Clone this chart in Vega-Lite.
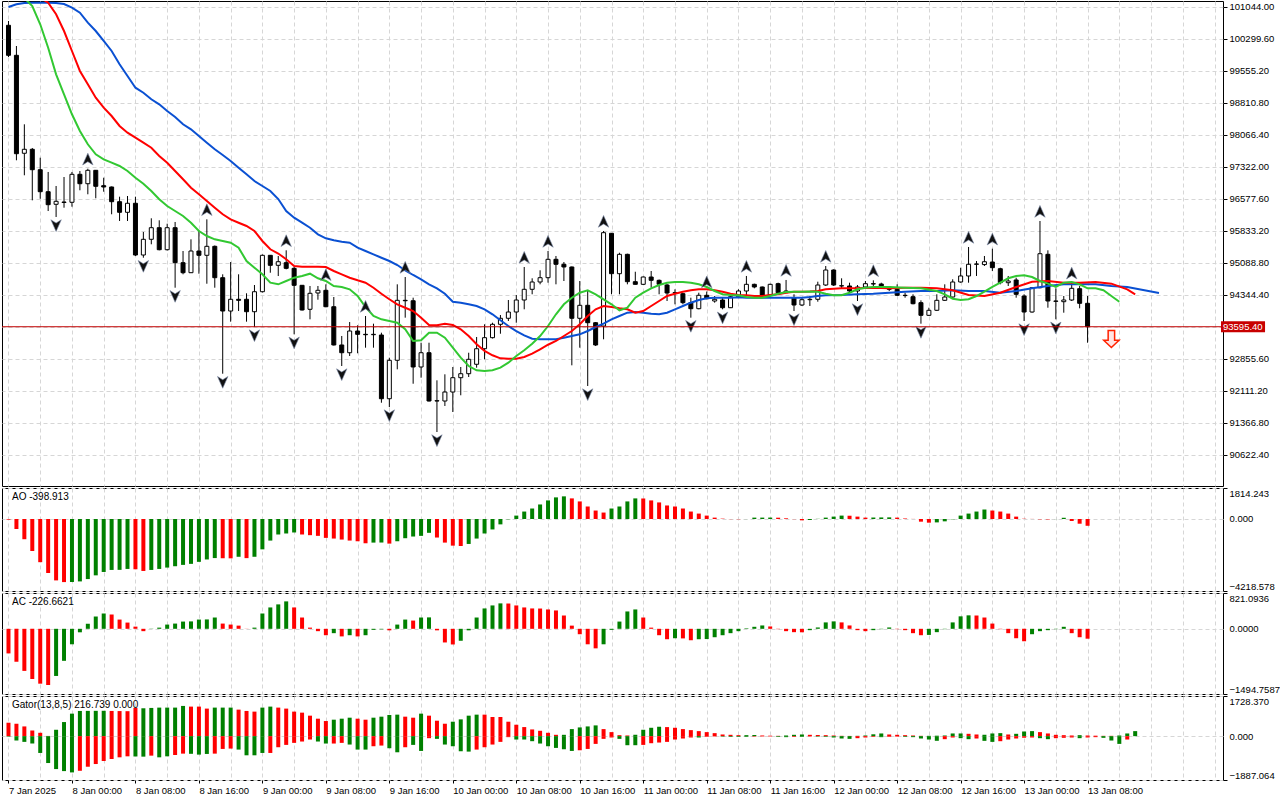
{
  "$schema": "https://vega.github.io/schema/vega-lite/v6.json",
  "background": "white",
  "padding": {"left": 1, "top": 0, "right": 0, "bottom": 0},
  "spacing": 2,
  "bounds": "flush",
  "config": {
    "view": {"stroke": "black", "strokeWidth": 1},
    "font": "Liberation Sans",
    "axis": {"labelFont": "Liberation Sans", "labelFontSize": 9.5, "labelColor": "#000000", "gridColor": "#d6d6d6", "gridDash": [4, 3], "gridWidth": 1, "tickColor": "#000000", "domainColor": "#000000", "tickCount": 200},
    "text": {"font": "Liberation Sans"}
  },
  "datasets": {
    "bars": [
      {"k":0,"o":100607,"h":100707,"l":99869,"c":99909},
      {"k":1,"o":99909,"h":100125,"l":97467,"c":97620},
      {"k":2,"o":97630,"h":98304,"l":97118,"c":97723},
      {"k":3,"o":97723,"h":97753,"l":96536,"c":97248},
      {"k":4,"o":97248,"h":97527,"l":96573,"c":96736},
      {"k":5,"o":96736,"h":97195,"l":96287,"c":96434},
      {"k":6,"o":96443,"h":96869,"l":96148,"c":96513,"f":"d"},
      {"k":7,"o":96497,"h":97078,"l":96364,"c":96485},
      {"k":8,"o":96490,"h":97195,"l":96387,"c":97141},
      {"k":9,"o":97141,"h":97218,"l":96769,"c":96922},
      {"k":10,"o":96922,"h":97271,"l":96676,"c":97234,"f":"u"},
      {"k":11,"o":97234,"h":97241,"l":96583,"c":96862},
      {"k":12,"o":96876,"h":97062,"l":96736,"c":96846},
      {"k":13,"o":96846,"h":96857,"l":96211,"c":96504},
      {"k":14,"o":96504,"h":96620,"l":96055,"c":96257},
      {"k":15,"o":96257,"h":96636,"l":96055,"c":96467},
      {"k":16,"o":96467,"h":96620,"l":95241,"c":95264},
      {"k":17,"o":95264,"h":95799,"l":95201,"c":95629,"f":"d"},
      {"k":18,"o":95629,"h":96118,"l":95513,"c":95899},
      {"k":19,"o":95899,"h":96071,"l":95373,"c":95387},
      {"k":20,"o":95387,"h":95992,"l":95369,"c":95899},
      {"k":21,"o":95899,"h":96032,"l":94503,"c":95085,"f":"d"},
      {"k":22,"o":95085,"h":95357,"l":94815,"c":94852},
      {"k":23,"o":94852,"h":95629,"l":94845,"c":95357},
      {"k":24,"o":95357,"h":95838,"l":94829,"c":95257},
      {"k":25,"o":95257,"h":96094,"l":94596,"c":95466,"f":"u"},
      {"k":26,"o":95466,"h":95485,"l":94503,"c":94736},
      {"k":27,"o":94736,"h":94815,"l":92503,"c":93961,"f":"d"},
      {"k":28,"o":93961,"h":95101,"l":93713,"c":94234},
      {"k":29,"o":94234,"h":94815,"l":93961,"c":94210},
      {"k":30,"o":94234,"h":94373,"l":93713,"c":93945},
      {"k":31,"o":93945,"h":94566,"l":93589,"c":94410,"f":"d"},
      {"k":32,"o":94410,"h":95276,"l":94392,"c":95257},
      {"k":33,"o":95257,"h":95264,"l":94852,"c":95024},
      {"k":34,"o":95024,"h":95241,"l":94775,"c":95108},
      {"k":35,"o":95085,"h":95373,"l":94931,"c":94954,"f":"u"},
      {"k":36,"o":94954,"h":94985,"l":93419,"c":94559,"f":"d"},
      {"k":37,"o":94559,"h":94566,"l":93973,"c":93985},
      {"k":38,"o":94001,"h":94543,"l":93768,"c":94373},
      {"k":39,"o":94380,"h":94543,"l":94224,"c":94443},
      {"k":40,"o":94443,"h":94582,"l":94050,"c":94061,"f":"u"},
      {"k":41,"o":94061,"h":94287,"l":93159,"c":93171},
      {"k":42,"o":93171,"h":93380,"l":92682,"c":92991,"f":"d"},
      {"k":43,"o":92991,"h":93705,"l":92915,"c":93496},
      {"k":44,"o":93496,"h":93629,"l":92978,"c":93419},
      {"k":45,"o":93419,"h":93845,"l":93108,"c":93410,"f":"u"},
      {"k":46,"o":93410,"h":93666,"l":93108,"c":93419},
      {"k":47,"o":93403,"h":93457,"l":91828,"c":91921},
      {"k":48,"o":91921,"h":92875,"l":91728,"c":92815,"f":"d"},
      {"k":49,"o":92815,"h":94582,"l":92605,"c":94210},
      {"k":50,"o":94210,"h":94752,"l":93806,"c":94200,"f":"u"},
      {"k":51,"o":94200,"h":94271,"l":92270,"c":92659},
      {"k":52,"o":92659,"h":93224,"l":92410,"c":92991},
      {"k":53,"o":92991,"h":93224,"l":91856,"c":91868},
      {"k":54,"o":91868,"h":92349,"l":91147,"c":91875,"f":"d"},
      {"k":55,"o":91868,"h":92489,"l":91752,"c":92077},
      {"k":56,"o":92077,"h":92659,"l":91612,"c":92410},
      {"k":57,"o":92410,"h":92659,"l":92001,"c":92503},
      {"k":58,"o":92503,"h":92991,"l":92426,"c":92838},
      {"k":59,"o":92722,"h":93357,"l":92643,"c":93084},
      {"k":60,"o":93084,"h":93652,"l":92838,"c":93341},
      {"k":61,"o":93341,"h":93689,"l":93322,"c":93652},
      {"k":62,"o":93652,"h":93868,"l":93433,"c":93792},
      {"k":63,"o":93792,"h":94217,"l":93729,"c":93938},
      {"k":64,"o":93938,"h":94334,"l":93689,"c":94217},
      {"k":65,"o":94217,"h":94985,"l":94001,"c":94466,"f":"u"},
      {"k":66,"o":94466,"h":94722,"l":94350,"c":94636},
      {"k":67,"o":94636,"h":94908,"l":94582,"c":94736},
      {"k":68,"o":94736,"h":95357,"l":94620,"c":95164,"f":"u"},
      {"k":69,"o":95164,"h":95241,"l":94582,"c":95048},
      {"k":70,"o":95048,"h":95101,"l":94659,"c":94985},
      {"k":71,"o":94985,"h":94996,"l":92698,"c":93792},
      {"k":72,"o":93792,"h":94659,"l":93108,"c":94094},
      {"k":73,"o":94094,"h":94443,"l":92217,"c":93689,"f":"d"},
      {"k":74,"o":93689,"h":93705,"l":93147,"c":93171},
      {"k":75,"o":93612,"h":95822,"l":93303,"c":95783,"f":"u"},
      {"k":76,"o":95769,"h":95776,"l":94350,"c":94829},
      {"k":77,"o":94829,"h":95317,"l":94350,"c":95280},
      {"k":78,"o":95280,"h":95294,"l":94582,"c":94643},
      {"k":79,"o":94643,"h":94875,"l":94578,"c":94582},
      {"k":80,"o":94582,"h":94764,"l":94566,"c":94752},
      {"k":81,"o":94752,"h":94892,"l":94503,"c":94675},
      {"k":82,"o":94675,"h":94694,"l":94350,"c":94582},
      {"k":83,"o":94566,"h":94589,"l":94194,"c":94380},
      {"k":84,"o":94387,"h":94466,"l":94117,"c":94380},
      {"k":85,"o":94364,"h":94380,"l":94117,"c":94155},
      {"k":86,"o":94155,"h":94271,"l":93806,"c":94015,"f":"d"},
      {"k":87,"o":94015,"h":94387,"l":94001,"c":94327},
      {"k":88,"o":94327,"h":94415,"l":94234,"c":94248,"f":"u"},
      {"k":89,"o":94194,"h":94310,"l":94155,"c":94234},
      {"k":90,"o":94217,"h":94271,"l":94001,"c":94038,"f":"d"},
      {"k":91,"o":94038,"h":94327,"l":94030,"c":94294},
      {"k":92,"o":94294,"h":94466,"l":94280,"c":94427},
      {"k":93,"o":94427,"h":94776,"l":94310,"c":94582,"f":"u"},
      {"k":94,"o":94582,"h":94597,"l":94489,"c":94520},
      {"k":95,"o":94520,"h":94530,"l":94310,"c":94334},
      {"k":96,"o":94334,"h":94597,"l":94310,"c":94582},
      {"k":97,"o":94597,"h":94620,"l":94350,"c":94387},
      {"k":98,"o":94387,"h":94683,"l":94380,"c":94427,"f":"u"},
      {"k":99,"o":94271,"h":94350,"l":93961,"c":94101,"f":"d"},
      {"k":100,"o":94101,"h":94271,"l":94078,"c":94224},
      {"k":101,"o":94224,"h":94310,"l":94078,"c":94234},
      {"k":102,"o":94234,"h":94643,"l":94178,"c":94566},
      {"k":103,"o":94566,"h":95008,"l":94543,"c":94915,"f":"u"},
      {"k":104,"o":94915,"h":94931,"l":94543,"c":94566},
      {"k":105,"o":94543,"h":94722,"l":94489,"c":94550},
      {"k":106,"o":94543,"h":94620,"l":94387,"c":94427},
      {"k":107,"o":94427,"h":94566,"l":94194,"c":94520,"f":"d"},
      {"k":108,"o":94520,"h":94659,"l":94489,"c":94597},
      {"k":109,"o":94597,"h":94675,"l":94543,"c":94590,"f":"u"},
      {"k":110,"o":94590,"h":94620,"l":94489,"c":94520},
      {"k":111,"o":94520,"h":94543,"l":94427,"c":94466},
      {"k":112,"o":94466,"h":94582,"l":94310,"c":94327},
      {"k":113,"o":94327,"h":94387,"l":94271,"c":94320},
      {"k":114,"o":94294,"h":94350,"l":94117,"c":94131},
      {"k":115,"o":94155,"h":94210,"l":93666,"c":93861,"f":"d"},
      {"k":116,"o":93861,"h":94038,"l":93845,"c":93978},
      {"k":117,"o":93978,"h":94350,"l":93961,"c":94210},
      {"k":118,"o":94210,"h":94582,"l":94194,"c":94287},
      {"k":119,"o":94287,"h":94699,"l":94271,"c":94636},
      {"k":120,"o":94636,"h":94968,"l":94620,"c":94776},
      {"k":121,"o":94776,"h":95450,"l":94620,"c":95048,"f":"u"},
      {"k":122,"o":95048,"h":95124,"l":94776,"c":95055},
      {"k":123,"o":95041,"h":95241,"l":95008,"c":95108},
      {"k":124,"o":95101,"h":95411,"l":94892,"c":94969,"f":"u"},
      {"k":125,"o":94945,"h":94968,"l":94582,"c":94620},
      {"k":126,"o":94620,"h":94776,"l":94543,"c":94659},
      {"k":127,"o":94683,"h":94736,"l":94271,"c":94350},
      {"k":128,"o":94310,"h":94350,"l":93729,"c":93938,"f":"d"},
      {"k":129,"o":93938,"h":94520,"l":93922,"c":94503},
      {"k":130,"o":94503,"h":96055,"l":94489,"c":95294,"f":"u"},
      {"k":131,"o":95280,"h":95373,"l":94038,"c":94194},
      {"k":132,"o":94194,"h":94489,"l":93768,"c":94187,"f":"d"},
      {"k":133,"o":94178,"h":94310,"l":93922,"c":94217},
      {"k":134,"o":94217,"h":94620,"l":94194,"c":94489,"f":"u"},
      {"k":135,"o":94480,"h":94543,"l":94024,"c":94140},
      {"k":136,"o":94140,"h":94310,"l":93224,"c":93595.4}
    ],
    "lines": [
      {"k":0,"jaw":101032},
      {"k":1,"jaw":101095},
      {"k":2,"jaw":101125,"lips":101242},
      {"k":3,"jaw":101132,"lips":101056},
      {"k":4,"jaw":101132,"teeth":101250,"lips":100630},
      {"k":5,"jaw":101132,"teeth":101132,"lips":100086},
      {"k":6,"jaw":101125,"teeth":100863,"lips":99467},
      {"k":7,"jaw":101102,"teeth":100474,"lips":99002},
      {"k":8,"jaw":101016,"teeth":100009,"lips":98537},
      {"k":9,"jaw":100900,"teeth":99544,"lips":98148},
      {"k":10,"jaw":100667,"teeth":99234,"lips":97839},
      {"k":11,"jaw":100474,"teeth":98923,"lips":97606},
      {"k":12,"jaw":100242,"teeth":98690,"lips":97490},
      {"k":13,"jaw":100009,"teeth":98497,"lips":97411},
      {"k":14,"jaw":99700,"teeth":98265,"lips":97334},
      {"k":15,"jaw":99428,"teeth":98109,"lips":97218},
      {"k":16,"jaw":99155,"teeth":97992,"lips":97062},
      {"k":17,"jaw":99039,"teeth":97876,"lips":96922},
      {"k":18,"jaw":98886,"teeth":97760,"lips":96753},
      {"k":19,"jaw":98769,"teeth":97567,"lips":96560},
      {"k":20,"jaw":98613,"teeth":97411,"lips":96404},
      {"k":21,"jaw":98474,"teeth":97218,"lips":96287},
      {"k":22,"jaw":98304,"teeth":97025,"lips":96171},
      {"k":23,"jaw":98188,"teeth":96829,"lips":96015},
      {"k":24,"jaw":98032,"teeth":96676,"lips":95822},
      {"k":25,"jaw":97876,"teeth":96520,"lips":95706},
      {"k":26,"jaw":97723,"teeth":96364,"lips":95629},
      {"k":27,"jaw":97590,"teeth":96211,"lips":95590},
      {"k":28,"jaw":97450,"teeth":96094,"lips":95550},
      {"k":29,"jaw":97295,"teeth":96015,"lips":95434},
      {"k":30,"jaw":97141,"teeth":95939,"lips":95124},
      {"k":31,"jaw":96985,"teeth":95822,"lips":94969},
      {"k":32,"jaw":96869,"teeth":95590,"lips":94815},
      {"k":33,"jaw":96753,"teeth":95397,"lips":94620},
      {"k":34,"jaw":96566,"teeth":95299,"lips":94582},
      {"k":35,"jaw":96287,"teeth":95164,"lips":94659},
      {"k":36,"jaw":96132,"teeth":95008,"lips":94736},
      {"k":37,"jaw":96015,"teeth":94992,"lips":94776},
      {"k":38,"jaw":95899,"teeth":94992,"lips":94829},
      {"k":39,"jaw":95745,"teeth":94992,"lips":94722},
      {"k":40,"jaw":95652,"teeth":94985,"lips":94659},
      {"k":41,"jaw":95606,"teeth":94892,"lips":94543},
      {"k":42,"jaw":95573,"teeth":94815,"lips":94520},
      {"k":43,"jaw":95550,"teeth":94736,"lips":94466},
      {"k":44,"jaw":95434,"teeth":94675,"lips":94310},
      {"k":45,"jaw":95357,"teeth":94620,"lips":94054},
      {"k":46,"jaw":95280,"teeth":94503,"lips":93845},
      {"k":47,"jaw":95201,"teeth":94364,"lips":93768},
      {"k":48,"jaw":95124,"teeth":94234,"lips":93729},
      {"k":49,"jaw":95031,"teeth":94117,"lips":93689},
      {"k":50,"jaw":94908,"teeth":94038,"lips":93536},
      {"k":51,"jaw":94799,"teeth":93961,"lips":93264},
      {"k":52,"jaw":94699,"teeth":93806,"lips":93280},
      {"k":53,"jaw":94582,"teeth":93636,"lips":93457},
      {"k":54,"jaw":94489,"teeth":93629,"lips":93457},
      {"k":55,"jaw":94364,"teeth":93666,"lips":93340},
      {"k":56,"jaw":94178,"teeth":93636,"lips":93108},
      {"k":57,"jaw":94155,"teeth":93536,"lips":92875},
      {"k":58,"jaw":94117,"teeth":93380,"lips":92682},
      {"k":59,"jaw":94078,"teeth":93187,"lips":92582},
      {"k":60,"jaw":94001,"teeth":93031,"lips":92566},
      {"k":61,"jaw":93885,"teeth":92931,"lips":92582},
      {"k":62,"jaw":93745,"teeth":92861,"lips":92643},
      {"k":63,"jaw":93612,"teeth":92852,"lips":92759},
      {"k":64,"jaw":93496,"teeth":92852,"lips":92915},
      {"k":65,"jaw":93396,"teeth":92891,"lips":93047},
      {"k":66,"jaw":93317,"teeth":92968,"lips":93201},
      {"k":67,"jaw":93303,"teeth":93071,"lips":93380},
      {"k":68,"jaw":93303,"teeth":93177,"lips":93612},
      {"k":69,"jaw":93303,"teeth":93264,"lips":93885},
      {"k":70,"jaw":93340,"teeth":93380,"lips":94117},
      {"k":71,"jaw":93380,"teeth":93496,"lips":94271},
      {"k":72,"jaw":93419,"teeth":93652,"lips":94387},
      {"k":73,"jaw":93496,"teeth":93845,"lips":94443},
      {"k":74,"jaw":93589,"teeth":94001,"lips":94350},
      {"k":75,"jaw":93666,"teeth":94078,"lips":94234},
      {"k":76,"jaw":93768,"teeth":94054,"lips":94117},
      {"k":77,"jaw":93845,"teeth":94024,"lips":93978},
      {"k":78,"jaw":93922,"teeth":94001,"lips":94038},
      {"k":79,"jaw":93938,"teeth":93922,"lips":94271},
      {"k":80,"jaw":93922,"teeth":93961,"lips":94387},
      {"k":81,"jaw":93899,"teeth":94078,"lips":94489},
      {"k":82,"jaw":93885,"teeth":94194,"lips":94566},
      {"k":83,"jaw":93922,"teeth":94310,"lips":94620},
      {"k":84,"jaw":94001,"teeth":94364,"lips":94636},
      {"k":85,"jaw":94078,"teeth":94410,"lips":94636},
      {"k":86,"jaw":94155,"teeth":94443,"lips":94620},
      {"k":87,"jaw":94217,"teeth":94466,"lips":94582},
      {"k":88,"jaw":94257,"teeth":94466,"lips":94520},
      {"k":89,"jaw":94271,"teeth":94443,"lips":94427},
      {"k":90,"jaw":94271,"teeth":94410,"lips":94350},
      {"k":91,"jaw":94271,"teeth":94364,"lips":94334},
      {"k":92,"jaw":94280,"teeth":94334,"lips":94327},
      {"k":93,"jaw":94271,"teeth":94327,"lips":94287},
      {"k":94,"jaw":94271,"teeth":94310,"lips":94271},
      {"k":95,"jaw":94271,"teeth":94310,"lips":94271},
      {"k":96,"jaw":94271,"teeth":94334,"lips":94310},
      {"k":97,"jaw":94271,"teeth":94350,"lips":94364},
      {"k":98,"jaw":94271,"teeth":94387,"lips":94403},
      {"k":99,"jaw":94271,"teeth":94410,"lips":94410},
      {"k":100,"jaw":94271,"teeth":94410,"lips":94410},
      {"k":101,"jaw":94287,"teeth":94415,"lips":94415},
      {"k":102,"jaw":94310,"teeth":94427,"lips":94410},
      {"k":103,"jaw":94327,"teeth":94466,"lips":94364},
      {"k":104,"lips":94327},
      {"k":105,"jaw":94334,"teeth":94489,"lips":94327},
      {"k":106,"lips":94387},
      {"k":107,"jaw":94350,"teeth":94489,"lips":94466},
      {"k":108,"lips":94503},
      {"k":109,"jaw":94364,"teeth":94503,"lips":94520},
      {"k":111,"jaw":94387,"teeth":94489,"lips":94520},
      {"k":113,"jaw":94410,"teeth":94503,"lips":94503},
      {"k":115,"jaw":94427,"teeth":94503,"lips":94489},
      {"k":117,"jaw":94427,"teeth":94489,"lips":94427},
      {"k":118,"lips":94350},
      {"k":119,"jaw":94443,"teeth":94443,"lips":94248},
      {"k":120,"lips":94217},
      {"k":121,"jaw":94427,"teeth":94334,"lips":94234},
      {"k":122,"lips":94310},
      {"k":123,"jaw":94427,"teeth":94310,"lips":94410},
      {"k":124,"lips":94520},
      {"k":125,"jaw":94387,"teeth":94387,"lips":94620},
      {"k":126,"lips":94722},
      {"k":127,"jaw":94427,"teeth":94520,"lips":94776},
      {"k":128,"lips":94792},
      {"k":129,"jaw":94489,"teeth":94643,"lips":94752},
      {"k":130,"lips":94659},
      {"k":131,"jaw":94543,"teeth":94659,"lips":94597},
      {"k":132,"lips":94520},
      {"k":133,"jaw":94582,"teeth":94620,"lips":94620},
      {"k":134,"lips":94636},
      {"k":135,"jaw":94582,"teeth":94620,"lips":94582},
      {"k":136,"lips":94489},
      {"k":137,"jaw":94582,"teeth":94636,"lips":94489},
      {"k":138,"lips":94443},
      {"k":139,"jaw":94543,"teeth":94597,"lips":94310},
      {"k":140,"lips":94178},
      {"k":141,"jaw":94520,"teeth":94466},
      {"k":142,"teeth":94350},
      {"k":143,"jaw":94450},
      {"k":145,"jaw":94380}
    ],
    "ao": [
      {"k":0,"v":-40,"d":"dn"},{"k":1,"v":-593,"d":"dn"},{"k":2,"v":-1186,"d":"dn"},{"k":3,"v":-1878,"d":"dn"},
      {"k":4,"v":-2531,"d":"dn"},{"k":5,"v":-3163,"d":"dn"},{"k":6,"v":-3598,"d":"dn"},{"k":7,"v":-3697,"d":"dn"},
      {"k":8,"v":-3690,"d":"up"},{"k":9,"v":-3657,"d":"up"},{"k":10,"v":-3519,"d":"up"},{"k":11,"v":-3302,"d":"up"},
      {"k":12,"v":-3104,"d":"up"},{"k":13,"v":-2985,"d":"up"},{"k":14,"v":-2980,"d":"up"},{"k":15,"v":-2926,"d":"up"},
      {"k":16,"v":-2946,"d":"dn"},{"k":17,"v":-3045,"d":"dn"},{"k":18,"v":-2985,"d":"up"},{"k":19,"v":-2926,"d":"up"},
      {"k":20,"v":-2847,"d":"up"},{"k":21,"v":-2768,"d":"up"},{"k":22,"v":-2689,"d":"up"},{"k":23,"v":-2629,"d":"up"},
      {"k":24,"v":-2511,"d":"up"},{"k":25,"v":-2372,"d":"up"},{"k":26,"v":-2290,"d":"up"},{"k":27,"v":-2300,"d":"dn"},
      {"k":28,"v":-2305,"d":"dn"},{"k":29,"v":-2214,"d":"up"},{"k":30,"v":-2293,"d":"dn"},{"k":31,"v":-2214,"d":"up"},
      {"k":32,"v":-1779,"d":"up"},{"k":33,"v":-1265,"d":"up"},{"k":34,"v":-909,"d":"up"},{"k":35,"v":-850,"d":"up"},
      {"k":36,"v":-791,"d":"up"},{"k":37,"v":-909,"d":"dn"},{"k":38,"v":-949,"d":"dn"},{"k":39,"v":-989,"d":"dn"},
      {"k":40,"v":-1107,"d":"dn"},{"k":41,"v":-1147,"d":"dn"},{"k":42,"v":-1206,"d":"dn"},{"k":43,"v":-1265,"d":"dn"},
      {"k":44,"v":-1305,"d":"dn"},{"k":45,"v":-1423,"d":"dn"},{"k":46,"v":-1384,"d":"up"},{"k":47,"v":-1380,"d":"up"},
      {"k":48,"v":-1443,"d":"dn"},{"k":49,"v":-1305,"d":"up"},{"k":50,"v":-1127,"d":"up"},{"k":51,"v":-1028,"d":"up"},
      {"k":52,"v":-989,"d":"up"},{"k":53,"v":-811,"d":"up"},{"k":54,"v":-1087,"d":"dn"},{"k":55,"v":-1384,"d":"dn"},
      {"k":56,"v":-1562,"d":"dn"},{"k":57,"v":-1582,"d":"dn"},{"k":58,"v":-1463,"d":"up"},{"k":59,"v":-1147,"d":"up"},
      {"k":60,"v":-850,"d":"up"},{"k":61,"v":-613,"d":"up"},{"k":62,"v":-316,"d":"up"},{"k":63,"v":-20,"d":"up"},
      {"k":64,"v":198,"d":"up"},{"k":65,"v":435,"d":"up"},{"k":66,"v":613,"d":"up"},{"k":67,"v":850,"d":"up"},
      {"k":68,"v":1087,"d":"up"},{"k":69,"v":1265,"d":"up"},{"k":70,"v":1325,"d":"up"},{"k":71,"v":1206,"d":"dn"},
      {"k":72,"v":1028,"d":"dn"},{"k":73,"v":731,"d":"dn"},{"k":74,"v":494,"d":"dn"},{"k":75,"v":376,"d":"dn"},
      {"k":76,"v":613,"d":"up"},{"k":77,"v":731,"d":"up"},{"k":78,"v":1028,"d":"up"},{"k":79,"v":1206,"d":"up"},
      {"k":80,"v":1200,"d":"dn"},{"k":81,"v":1087,"d":"dn"},{"k":82,"v":969,"d":"dn"},{"k":83,"v":791,"d":"dn"},
      {"k":84,"v":731,"d":"dn"},{"k":85,"v":613,"d":"dn"},{"k":86,"v":435,"d":"dn"},{"k":87,"v":316,"d":"dn"},
      {"k":88,"v":198,"d":"dn"},{"k":89,"v":79,"d":"dn"},{"k":90,"v":20,"d":"dn"},{"k":91,"v":-10,"d":"dn"},
      {"k":92,"v":-15,"d":"dn"},{"k":93,"v":-5,"d":"up"},{"k":94,"v":79,"d":"up"},{"k":95,"v":80,"d":"up"},
      {"k":96,"v":82,"d":"up"},{"k":97,"v":75,"d":"dn"},{"k":98,"v":40,"d":"dn"},{"k":99,"v":-10,"d":"dn"},
      {"k":100,"v":-79,"d":"dn"},{"k":101,"v":-59,"d":"up"},{"k":102,"v":10,"d":"up"},{"k":103,"v":79,"d":"up"},
      {"k":104,"v":138,"d":"up"},{"k":105,"v":198,"d":"up"},{"k":106,"v":190,"d":"dn"},{"k":107,"v":138,"d":"dn"},
      {"k":108,"v":79,"d":"dn"},{"k":109,"v":85,"d":"up"},{"k":110,"v":90,"d":"up"},{"k":111,"v":95,"d":"up"},
      {"k":112,"v":80,"d":"dn"},{"k":113,"v":30,"d":"dn"},{"k":114,"v":5,"d":"dn"},{"k":115,"v":-158,"d":"dn"},
      {"k":116,"v":-217,"d":"dn"},{"k":117,"v":-200,"d":"up"},{"k":118,"v":-138,"d":"up"},{"k":119,"v":-20,"d":"up"},
      {"k":120,"v":198,"d":"up"},{"k":121,"v":316,"d":"up"},{"k":122,"v":435,"d":"up"},{"k":123,"v":554,"d":"up"},
      {"k":124,"v":494,"d":"dn"},{"k":125,"v":435,"d":"dn"},{"k":126,"v":316,"d":"dn"},{"k":127,"v":138,"d":"dn"},
      {"k":128,"v":20,"d":"dn"},{"k":129,"v":5,"d":"dn"},{"k":130,"v":-20,"d":"dn"},{"k":131,"v":-25,"d":"dn"},
      {"k":132,"v":-5,"d":"up"},{"k":133,"v":70,"d":"up"},{"k":134,"v":-119,"d":"dn"},{"k":135,"v":-277,"d":"dn"},
      {"k":136,"v":-398.913,"d":"dn"}
    ],
    "ac": [
      {"k":0,"v":-564,"d":"dn"},{"k":1,"v":-753,"d":"dn"},{"k":2,"v":-965,"d":"dn"},{"k":3,"v":-1150,"d":"dn"},
      {"k":4,"v":-1258,"d":"dn"},{"k":5,"v":-1289,"d":"dn"},{"k":6,"v":-1081,"d":"up"},{"k":7,"v":-734,"d":"up"},
      {"k":8,"v":-355,"d":"up"},{"k":9,"v":-80,"d":"up"},{"k":10,"v":116,"d":"up"},{"k":11,"v":282,"d":"up"},
      {"k":12,"v":351,"d":"up"},{"k":13,"v":328,"d":"dn"},{"k":14,"v":212,"d":"dn"},{"k":15,"v":143,"d":"dn"},
      {"k":16,"v":50,"d":"dn"},{"k":17,"v":-54,"d":"dn"},{"k":18,"v":5,"d":"up"},{"k":19,"v":27,"d":"up"},
      {"k":20,"v":97,"d":"up"},{"k":21,"v":120,"d":"up"},{"k":22,"v":166,"d":"up"},{"k":23,"v":170,"d":"up"},
      {"k":24,"v":212,"d":"up"},{"k":25,"v":215,"d":"up"},{"k":26,"v":259,"d":"up"},{"k":27,"v":120,"d":"dn"},
      {"k":28,"v":97,"d":"dn"},{"k":29,"v":73,"d":"dn"},{"k":30,"v":-3,"d":"dn"},{"k":31,"v":27,"d":"up"},
      {"k":32,"v":351,"d":"up"},{"k":33,"v":490,"d":"up"},{"k":34,"v":560,"d":"up"},{"k":35,"v":629,"d":"up"},
      {"k":36,"v":490,"d":"dn"},{"k":37,"v":259,"d":"dn"},{"k":38,"v":27,"d":"dn"},{"k":39,"v":-54,"d":"dn"},
      {"k":40,"v":-147,"d":"dn"},{"k":41,"v":-100,"d":"up"},{"k":42,"v":-174,"d":"dn"},{"k":43,"v":-147,"d":"up"},
      {"k":44,"v":-174,"d":"dn"},{"k":45,"v":-147,"d":"up"},{"k":46,"v":-23,"d":"up"},{"k":47,"v":-12,"d":"up"},
      {"k":48,"v":-35,"d":"dn"},{"k":49,"v":97,"d":"up"},{"k":50,"v":212,"d":"up"},{"k":51,"v":189,"d":"dn"},
      {"k":52,"v":259,"d":"up"},{"k":53,"v":262,"d":"up"},{"k":54,"v":-35,"d":"dn"},{"k":55,"v":-313,"d":"dn"},
      {"k":56,"v":-359,"d":"dn"},{"k":57,"v":-274,"d":"up"},{"k":58,"v":-35,"d":"up"},{"k":59,"v":259,"d":"up"},
      {"k":60,"v":467,"d":"up"},{"k":61,"v":536,"d":"up"},{"k":62,"v":583,"d":"up"},{"k":63,"v":580,"d":"dn"},
      {"k":64,"v":536,"d":"dn"},{"k":65,"v":490,"d":"dn"},{"k":66,"v":467,"d":"dn"},{"k":67,"v":465,"d":"dn"},
      {"k":68,"v":444,"d":"dn"},{"k":69,"v":421,"d":"dn"},{"k":70,"v":305,"d":"dn"},{"k":71,"v":73,"d":"dn"},
      {"k":72,"v":-124,"d":"dn"},{"k":73,"v":-355,"d":"dn"},{"k":74,"v":-448,"d":"dn"},{"k":75,"v":-355,"d":"up"},
      {"k":76,"v":-23,"d":"up"},{"k":77,"v":166,"d":"up"},{"k":78,"v":398,"d":"up"},{"k":79,"v":444,"d":"up"},
      {"k":80,"v":259,"d":"dn"},{"k":81,"v":27,"d":"dn"},{"k":82,"v":-147,"d":"dn"},{"k":83,"v":-239,"d":"dn"},
      {"k":84,"v":-216,"d":"up"},{"k":85,"v":-220,"d":"dn"},{"k":86,"v":-262,"d":"dn"},{"k":87,"v":-239,"d":"up"},
      {"k":88,"v":-235,"d":"up"},{"k":89,"v":-193,"d":"up"},{"k":90,"v":-147,"d":"up"},{"k":91,"v":-100,"d":"up"},
      {"k":92,"v":-54,"d":"up"},{"k":93,"v":12,"d":"up"},{"k":94,"v":46,"d":"up"},{"k":95,"v":77,"d":"up"},
      {"k":96,"v":54,"d":"dn"},{"k":97,"v":-8,"d":"dn"},{"k":98,"v":-54,"d":"dn"},{"k":99,"v":-77,"d":"dn"},
      {"k":100,"v":-80,"d":"dn"},{"k":101,"v":-31,"d":"up"},{"k":102,"v":31,"d":"up"},{"k":103,"v":147,"d":"up"},
      {"k":104,"v":170,"d":"up"},{"k":105,"v":147,"d":"dn"},{"k":106,"v":77,"d":"dn"},{"k":107,"v":-31,"d":"dn"},
      {"k":108,"v":-54,"d":"dn"},{"k":109,"v":-31,"d":"up"},{"k":110,"v":-8,"d":"up"},{"k":111,"v":31,"d":"up"},
      {"k":112,"v":-8,"d":"dn"},{"k":113,"v":-31,"d":"dn"},{"k":114,"v":-100,"d":"dn"},{"k":115,"v":-147,"d":"dn"},
      {"k":116,"v":-140,"d":"up"},{"k":117,"v":-77,"d":"up"},{"k":118,"v":-8,"d":"up"},{"k":119,"v":147,"d":"up"},
      {"k":120,"v":286,"d":"up"},{"k":121,"v":309,"d":"up"},{"k":122,"v":305,"d":"dn"},{"k":123,"v":259,"d":"dn"},
      {"k":124,"v":120,"d":"dn"},{"k":125,"v":-8,"d":"dn"},{"k":126,"v":-100,"d":"dn"},{"k":127,"v":-216,"d":"dn"},
      {"k":128,"v":-286,"d":"dn"},{"k":129,"v":-124,"d":"up"},{"k":130,"v":-54,"d":"up"},{"k":131,"v":-31,"d":"up"},
      {"k":132,"v":-8,"d":"up"},{"k":133,"v":46,"d":"up"},{"k":134,"v":-100,"d":"dn"},{"k":135,"v":-193,"d":"dn"},
      {"k":136,"v":-226.6621,"d":"dn"}
    ],
    "gator": [
      {"k":0,"u":578,"ud":"dn","w":-20,"wd":"up"},{"k":1,"u":535,"ud":"dn","w":-188,"wd":"up"},
      {"k":2,"u":419,"ud":"dn","w":-246,"wd":"up"},{"k":3,"u":246,"ud":"dn","w":-318,"wd":"up"},
      {"k":4,"u":145,"ud":"dn","w":-723,"wd":"up"},{"k":5,"u":10,"ud":"dn","w":-1157,"wd":"up"},
      {"k":6,"u":275,"ud":"up","w":-1417,"wd":"up"},{"k":7,"u":607,"ud":"up","w":-1504,"wd":"up"},
      {"k":8,"u":969,"ud":"up","w":-1561,"wd":"up"},{"k":9,"u":1085,"ud":"up","w":-1490,"wd":"dn"},
      {"k":10,"u":1088,"ud":"up","w":-1316,"wd":"dn"},{"k":11,"u":1090,"ud":"up","w":-1200,"wd":"dn"},
      {"k":12,"u":1092,"ud":"up","w":-1070,"wd":"dn"},{"k":13,"u":1085,"ud":"dn","w":-983,"wd":"dn"},
      {"k":14,"u":1080,"ud":"dn","w":-911,"wd":"dn"},{"k":15,"u":1075,"ud":"dn","w":-868,"wd":"dn"},
      {"k":16,"u":1215,"ud":"dn","w":-875,"wd":"up"},{"k":17,"u":1200,"ud":"up","w":-882,"wd":"up"},
      {"k":18,"u":1215,"ud":"up","w":-839,"wd":"dn"},{"k":19,"u":1229,"ud":"up","w":-911,"wd":"up"},
      {"k":20,"u":1229,"ud":"up","w":-868,"wd":"up"},{"k":21,"u":1229,"ud":"up","w":-810,"wd":"dn"},
      {"k":22,"u":1301,"ud":"up","w":-752,"wd":"dn"},{"k":23,"u":1272,"ud":"dn","w":-760,"wd":"up"},
      {"k":24,"u":1272,"ud":"dn","w":-795,"wd":"up"},{"k":25,"u":1186,"ud":"dn","w":-766,"wd":"up"},
      {"k":26,"u":1229,"ud":"up","w":-752,"wd":"dn"},{"k":27,"u":1229,"ud":"up","w":-550,"wd":"dn"},
      {"k":28,"u":1229,"ud":"up","w":-535,"wd":"dn"},{"k":29,"u":1142,"ud":"dn","w":-578,"wd":"up"},
      {"k":30,"u":1085,"ud":"dn","w":-824,"wd":"up"},{"k":31,"u":1056,"ud":"dn","w":-824,"wd":"up"},
      {"k":32,"u":1229,"ud":"up","w":-723,"wd":"up"},{"k":33,"u":1272,"ud":"up","w":-723,"wd":"dn"},
      {"k":34,"u":1229,"ud":"dn","w":-477,"wd":"dn"},{"k":35,"u":1186,"ud":"dn","w":-376,"wd":"dn"},
      {"k":36,"u":1056,"ud":"dn","w":-289,"wd":"dn"},{"k":37,"u":1012,"ud":"dn","w":-231,"wd":"dn"},
      {"k":38,"u":882,"ud":"dn","w":-145,"wd":"dn"},{"k":39,"u":752,"ud":"dn","w":-231,"wd":"up"},
      {"k":40,"u":651,"ud":"dn","w":-318,"wd":"up"},{"k":41,"u":709,"ud":"up","w":-318,"wd":"dn"},
      {"k":42,"u":752,"ud":"up","w":-289,"wd":"dn"},{"k":43,"u":795,"ud":"up","w":-361,"wd":"up"},
      {"k":44,"u":752,"ud":"dn","w":-578,"wd":"up"},{"k":45,"u":709,"ud":"dn","w":-578,"wd":"up"},
      {"k":46,"u":795,"ud":"up","w":-434,"wd":"dn"},{"k":47,"u":839,"ud":"up","w":-405,"wd":"dn"},
      {"k":48,"u":911,"ud":"up","w":-520,"wd":"up"},{"k":49,"u":926,"ud":"up","w":-694,"wd":"up"},
      {"k":50,"u":839,"ud":"dn","w":-477,"wd":"dn"},{"k":51,"u":795,"ud":"dn","w":-376,"wd":"up"},
      {"k":52,"u":969,"ud":"up","w":-636,"wd":"up"},{"k":53,"u":882,"ud":"dn","w":-87,"wd":"dn"},
      {"k":54,"u":665,"ud":"dn","w":-116,"wd":"up"},{"k":55,"u":535,"ud":"dn","w":-361,"wd":"up"},
      {"k":56,"u":622,"ud":"up","w":-434,"wd":"up"},{"k":57,"u":723,"ud":"up","w":-650,"wd":"up"},
      {"k":58,"u":882,"ud":"up","w":-665,"wd":"up"},{"k":59,"u":926,"ud":"up","w":-578,"wd":"dn"},
      {"k":60,"u":926,"ud":"dn","w":-477,"wd":"dn"},{"k":61,"u":824,"ud":"dn","w":-361,"wd":"dn"},
      {"k":62,"u":824,"ud":"dn","w":-246,"wd":"dn"},{"k":63,"u":622,"ud":"dn","w":-43,"wd":"dn"},
      {"k":64,"u":492,"ud":"dn","w":-145,"wd":"up"},{"k":65,"u":391,"ud":"dn","w":-145,"wd":"up"},
      {"k":66,"u":289,"ud":"dn","w":-217,"wd":"up"},{"k":67,"u":231,"ud":"dn","w":-318,"wd":"up"},
      {"k":68,"u":145,"ud":"dn","w":-434,"wd":"up"},{"k":69,"u":58,"ud":"dn","w":-506,"wd":"up"},
      {"k":70,"u":58,"ud":"up","w":-564,"wd":"up"},{"k":71,"u":304,"ud":"up","w":-636,"wd":"up"},
      {"k":72,"u":376,"ud":"up","w":-607,"wd":"dn"},{"k":73,"u":419,"ud":"up","w":-550,"wd":"dn"},
      {"k":74,"u":463,"ud":"up","w":-333,"wd":"dn"},{"k":75,"u":304,"ud":"dn","w":-116,"wd":"dn"},
      {"k":76,"u":174,"ud":"dn","w":-58,"wd":"dn"},{"k":77,"u":43,"ud":"dn","w":-116,"wd":"up"},
      {"k":78,"u":30,"ud":"dn","w":-390,"wd":"up"},{"k":79,"u":60,"ud":"up","w":-390,"wd":"up"},
      {"k":80,"u":275,"ud":"up","w":-376,"wd":"dn"},{"k":81,"u":361,"ud":"up","w":-304,"wd":"dn"},
      {"k":82,"u":405,"ud":"up","w":-275,"wd":"dn"},{"k":83,"u":390,"ud":"dn","w":-246,"wd":"dn"},
      {"k":84,"u":361,"ud":"dn","w":-145,"wd":"dn"},{"k":85,"u":304,"ud":"dn","w":-101,"wd":"dn"},
      {"k":86,"u":260,"ud":"dn","w":-58,"wd":"dn"},{"k":87,"u":217,"ud":"dn","w":-58,"wd":"up"},
      {"k":88,"u":174,"ud":"dn","w":-29,"wd":"dn"},{"k":89,"u":130,"ud":"dn","w":-14,"wd":"dn"},
      {"k":90,"u":72,"ud":"dn","w":-20,"wd":"up"},{"k":91,"u":58,"ud":"dn","w":-29,"wd":"up"},
      {"k":92,"u":43,"ud":"dn","w":-29,"wd":"up"},{"k":93,"u":43,"ud":"up","w":-29,"wd":"up"},
      {"k":94,"u":50,"ud":"up","w":-20,"wd":"dn"},{"k":95,"u":29,"ud":"dn","w":-14,"wd":"dn"},
      {"k":96,"u":20,"ud":"dn","w":-14,"wd":"dn"},{"k":97,"u":14,"ud":"dn","w":-29,"wd":"up"},
      {"k":98,"u":29,"ud":"up","w":-43,"wd":"up"},{"k":99,"u":58,"ud":"up","w":-29,"wd":"dn"},
      {"k":100,"u":72,"ud":"up","w":-29,"wd":"up"},{"k":101,"u":58,"ud":"dn","w":-14,"wd":"dn"},
      {"k":102,"u":50,"ud":"dn","w":-20,"wd":"up"},{"k":103,"u":43,"ud":"dn","w":-29,"wd":"up"},
      {"k":104,"u":29,"ud":"dn","w":-58,"wd":"up"},{"k":105,"u":14,"ud":"dn","w":-101,"wd":"up"},
      {"k":106,"u":10,"ud":"dn","w":-116,"wd":"up"},{"k":107,"u":14,"ud":"up","w":-87,"wd":"dn"},
      {"k":108,"u":29,"ud":"up","w":-58,"wd":"dn"},{"k":109,"u":80,"ud":"up","w":-29,"wd":"dn"},
      {"k":110,"u":116,"ud":"up","w":-43,"wd":"up"},{"k":111,"u":72,"ud":"dn","w":-29,"wd":"dn"},
      {"k":112,"u":58,"ud":"dn","w":-20,"wd":"dn"},{"k":113,"u":43,"ud":"dn","w":-29,"wd":"up"},
      {"k":114,"u":29,"ud":"dn","w":-43,"wd":"up"},{"k":115,"u":14,"ud":"dn","w":-101,"wd":"up"},
      {"k":116,"u":14,"ud":"up","w":-145,"wd":"up"},{"k":117,"u":20,"ud":"up","w":-200,"wd":"up"},
      {"k":118,"u":29,"ud":"up","w":-130,"wd":"dn"},{"k":119,"u":116,"ud":"up","w":-58,"wd":"dn"},
      {"k":120,"u":116,"ud":"up","w":-87,"wd":"up"},{"k":121,"u":101,"ud":"dn","w":-130,"wd":"up"},
      {"k":122,"u":72,"ud":"dn","w":-101,"wd":"dn"},{"k":123,"u":60,"ud":"up","w":-202,"wd":"up"},
      {"k":124,"u":116,"ud":"up","w":-246,"wd":"up"},{"k":125,"u":130,"ud":"up","w":-217,"wd":"dn"},
      {"k":126,"u":72,"ud":"dn","w":-145,"wd":"dn"},{"k":127,"u":101,"ud":"up","w":-101,"wd":"dn"},
      {"k":128,"u":202,"ud":"up","w":-72,"wd":"dn"},{"k":129,"u":217,"ud":"up","w":-58,"wd":"dn"},
      {"k":130,"u":174,"ud":"dn","w":-87,"wd":"up"},{"k":131,"u":116,"ud":"dn","w":-130,"wd":"up"},
      {"k":132,"u":58,"ud":"dn","w":-87,"wd":"dn"},{"k":133,"u":43,"ud":"dn","w":-72,"wd":"dn"},
      {"k":134,"u":29,"ud":"dn","w":-58,"wd":"dn"},{"k":135,"u":43,"ud":"up","w":-87,"wd":"up"},
      {"k":136,"u":29,"ud":"dn","w":-58,"wd":"dn"},{"k":137,"u":20,"ud":"dn","w":-43,"wd":"dn"},
      {"k":138,"u":14,"ud":"dn","w":-72,"wd":"up"},{"k":139,"u":14,"ud":"dn","w":-188,"wd":"up"},
      {"k":140,"u":29,"ud":"up","w":-333,"wd":"up"},{"k":141,"u":116,"ud":"up","w":-145,"wd":"dn"},
      {"k":142,"u":216.739,"ud":"up","w":0,"wd":"dn"}
    ]
  },
  "vconcat": [
    {
      "width": 1221,
      "height": 485,
      "layer": [
        {
          "data": {"name": "bars"},
          "mark": {"type": "rule", "color": "black", "strokeWidth": 1},
          "encoding": {
            "x": {"field": "k", "type": "quantitative", "scale": {"domain": [-0.1875, 152.4375], "nice": false, "zero": false}, "axis": {"values": [0,4,8,12,16,20,24,28,32,36,40,44,48,52,56,60,64,68,72,76,80,84,88,92,96,100,104,108,112,116,120,124,128,132,136,140,144,148,152], "tickCount": 200, "grid": true, "labels": false, "ticks": false, "domain": false, "title": null}},
            "y": {"field": "l", "type": "quantitative", "scale": {"domain": [89891, 101172], "nice": false, "zero": false}, "axis": {"orient": "right", "values": [101044,100299.6,99555.2,98810.8,98066.4,97322,96577.6,95833.2,95088.8,94344.4,93600,92855.6,92111.2,91366.8,90622.4], "tickCount": 200, "labelExpr": "datum.value == 93600 ? '' : format(datum.value, '.2f')", "tickSize": 4, "labelPadding": 2, "grid": true, "domain": false, "labelOverlap": false, "labelBound": false, "title": null}},
            "y2": {"field": "h"}
          }
        },
        {
          "data": {"name": "bars"},
          "mark": {"type": "bar", "width": 4, "stroke": "black", "strokeWidth": 1},
          "encoding": {
            "x": {"field": "k", "type": "quantitative"},
            "y": {"field": "o", "type": "quantitative", "title": null},
            "y2": {"field": "c"},
            "fill": {"condition": {"test": "datum.c >= datum.o", "value": "white"}, "value": "black"}
          }
        },
        {
          "data": {"name": "lines"},
          "transform": [{"filter": "isValid(datum.jaw)"}],
          "mark": {"type": "line", "color": "#0a50d2", "strokeWidth": 2, "clip": true},
          "encoding": {
            "x": {"field": "k", "type": "quantitative"},
            "y": {"field": "jaw", "type": "quantitative", "title": null}
          }
        },
        {
          "data": {"name": "lines"},
          "transform": [{"filter": "isValid(datum.teeth)"}],
          "mark": {"type": "line", "color": "#ff0000", "strokeWidth": 2, "clip": true},
          "encoding": {
            "x": {"field": "k", "type": "quantitative"},
            "y": {"field": "teeth", "type": "quantitative", "title": null}
          }
        },
        {
          "data": {"name": "lines"},
          "transform": [{"filter": "isValid(datum.lips)"}],
          "mark": {"type": "line", "color": "#32c832", "strokeWidth": 2, "clip": true},
          "encoding": {
            "x": {"field": "k", "type": "quantitative"},
            "y": {"field": "lips", "type": "quantitative", "title": null}
          }
        },
        {
          "data": {"name": "bars"},
          "transform": [{"filter": "datum.f == 'u'"}],
          "mark": {"type": "point", "shape": "M0,-1L0.8,0.8L0,0.3L-0.8,0.8Z", "size": 170, "filled": true, "color": "#111111", "stroke": "#7a8aa8", "strokeWidth": 0.6, "opacity": 1, "yOffset": -9},
          "encoding": {
            "x": {"field": "k", "type": "quantitative"},
            "y": {"field": "h", "type": "quantitative", "title": null}
          }
        },
        {
          "data": {"name": "bars"},
          "transform": [{"filter": "datum.f == 'd'"}],
          "mark": {"type": "point", "shape": "M0,1L0.8,-0.8L0,-0.3L-0.8,-0.8Z", "size": 170, "filled": true, "color": "#111111", "stroke": "#7a8aa8", "strokeWidth": 0.6, "opacity": 1, "yOffset": 8},
          "encoding": {
            "x": {"field": "k", "type": "quantitative"},
            "y": {"field": "l", "type": "quantitative", "title": null}
          }
        },
        {
          "data": {"values": [{"p": 93595.4}]},
          "mark": {"type": "rule", "color": "#c00000", "strokeWidth": 1},
          "encoding": {
            "y": {"field": "p", "type": "quantitative", "title": null}
          }
        },
        {
          "data": {"values": [{"k": 139, "p": 93310}]},
          "mark": {"type": "point", "shape": "M-0.38,-1L0.38,-1L0.38,0.15L0.9,0.15L0,1L-0.9,0.15L-0.38,0.15Z", "size": 289, "filled": true, "fill": "#ffe4e4", "stroke": "#ff2200", "strokeWidth": 1.5, "opacity": 1},
          "encoding": {
            "x": {"field": "k", "type": "quantitative"},
            "y": {"field": "p", "type": "quantitative", "title": null}
          }
        },
        {
          "data": {"values": [{"p": 93595.4, "t": "93595.40"}]},
          "mark": {"type": "point", "shape": "M0.214,-0.4L3.36,-0.4L3.36,0.4L0.214,0.4Z", "size": 784, "filled": true, "color": "#c80000", "opacity": 1},
          "encoding": {
            "x": {"datum": 152.4375, "type": "quantitative"},
            "y": {"field": "p", "type": "quantitative", "title": null}
          }
        },
        {
          "data": {"values": [{"p": 93595.4, "t": "93595.40"}]},
          "mark": {"type": "text", "align": "left", "baseline": "middle", "dx": 5, "color": "white", "fontSize": 9.5},
          "encoding": {
            "x": {"datum": 152.4375, "type": "quantitative"},
            "y": {"field": "p", "type": "quantitative", "title": null},
            "text": {"field": "t"}
          }
        }
      ]
    },
    {
      "width": 1221,
      "height": 103,
      "layer": [
        {
          "data": {"name": "ao"},
          "mark": {"type": "bar", "width": 4},
          "encoding": {
            "x": {"field": "k", "type": "quantitative", "scale": {"domain": [-0.1875, 152.4375], "nice": false, "zero": false}, "axis": {"values": [0,4,8,12,16,20,24,28,32,36,40,44,48,52,56,60,64,68,72,76,80,84,88,92,96,100,104,108,112,116,120,124,128,132,136,140,144,148,152], "tickCount": 200, "grid": true, "labels": false, "ticks": false, "domain": false, "title": null}},
            "y": {"field": "v", "type": "quantitative", "scale": {"domain": [-4218.578, 1814.243], "nice": false, "zero": false}, "axis": {"orient": "right", "values": [-4218.578, 0, 1814.243], "tickCount": 200, "format": ".3f", "labelFlush": true, "tickSize": 4, "tickOpacity": {"condition": {"test": "datum.value == 0", "value": 0}, "value": 1}, "labelPadding": 2, "grid": true, "domain": false, "labelOverlap": false, "title": null}},
            "y2": {"datum": 0},
            "color": {"field": "d", "type": "nominal", "scale": {"domain": ["up", "dn"], "range": ["#008000", "#ff0000"]}, "legend": null}
          }
        },
        {
          "data": {"values": [{"t": "AO -398.913"}]},
          "mark": {"type": "text", "align": "left", "baseline": "top", "dx": 5, "dy": 4, "fontSize": 10, "color": "black"},
          "encoding": {
            "x": {"datum": -0.1875, "type": "quantitative"},
            "y": {"datum": 1814.243, "type": "quantitative"},
            "text": {"field": "t"}
          }
        }
      ]
    },
    {
      "width": 1221,
      "height": 101,
      "layer": [
        {
          "data": {"name": "ac"},
          "mark": {"type": "bar", "width": 4},
          "encoding": {
            "x": {"field": "k", "type": "quantitative", "scale": {"domain": [-0.1875, 152.4375], "nice": false, "zero": false}, "axis": {"values": [0,4,8,12,16,20,24,28,32,36,40,44,48,52,56,60,64,68,72,76,80,84,88,92,96,100,104,108,112,116,120,124,128,132,136,140,144,148,152], "tickCount": 200, "grid": true, "labels": false, "ticks": false, "domain": false, "title": null}},
            "y": {"field": "v", "type": "quantitative", "scale": {"domain": [-1494.7587, 821.0936], "nice": false, "zero": false}, "axis": {"orient": "right", "values": [-1494.7587, 0, 821.0936], "tickCount": 200, "format": ".4f", "labelFlush": true, "tickSize": 4, "tickOpacity": {"condition": {"test": "datum.value == 0", "value": 0}, "value": 1}, "labelPadding": 2, "grid": true, "domain": false, "labelOverlap": false, "title": null}},
            "y2": {"datum": 0},
            "color": {"field": "d", "type": "nominal", "scale": {"domain": ["up", "dn"], "range": ["#008000", "#ff0000"]}, "legend": null}
          }
        },
        {
          "data": {"values": [{"t": "AC -226.6621"}]},
          "mark": {"type": "text", "align": "left", "baseline": "top", "dx": 5, "dy": 4, "fontSize": 10, "color": "black"},
          "encoding": {
            "x": {"datum": -0.1875, "type": "quantitative"},
            "y": {"datum": 821.0936, "type": "quantitative"},
            "text": {"field": "t"}
          }
        }
      ]
    },
    {
      "width": 1221,
      "height": 84,
      "layer": [
        {
          "data": {"name": "gator"},
          "mark": {"type": "bar", "width": 4},
          "encoding": {
            "x": {"field": "k", "type": "quantitative", "scale": {"domain": [-0.1875, 152.4375], "nice": false, "zero": false}, "axis": {"values": [0,4,8,12,16,20,24,28,32,36,40,44,48,52,56,60,64,68,72,76,80,84,88,92,96,100,104,108,112,116,120,124,128,132,136,140,144,148,152], "tickCount": 200, "grid": true, "labels": true, "ticks": true, "tickSize": 3, "tickOpacity": {"condition": {"test": "datum.value % 8 != 0 || datum.value > 136", "value": 0}, "value": 1}, "labelExpr": "datum.value % 8 != 0 || datum.value > 136 ? '' : datum.value == 0 ? '7 Jan 2025' : (7 + floor((datum.value + 16) / 24)) + ' Jan ' + ((datum.value + 16) % 24 < 10 ? '0' : '') + ((datum.value + 16) % 24) + ':00'", "labelAlign": "left", "labelPadding": 2, "labelOverlap": false, "labelFlush": false, "labelBound": false, "domain": false, "title": null}},
            "y": {"field": "u", "type": "quantitative", "scale": {"domain": [-1887.064, 1728.37], "nice": false, "zero": false}, "axis": {"orient": "right", "values": [-1887.064, 0, 1728.37], "tickCount": 200, "format": ".3f", "labelFlush": true, "tickSize": 4, "tickOpacity": {"condition": {"test": "datum.value == 0", "value": 0}, "value": 1}, "labelPadding": 2, "grid": true, "domain": false, "labelOverlap": false, "title": null}},
            "y2": {"datum": 0},
            "color": {"field": "ud", "type": "nominal", "scale": {"domain": ["up", "dn"], "range": ["#008000", "#ff0000"]}, "legend": null}
          }
        },
        {
          "data": {"name": "gator"},
          "mark": {"type": "bar", "width": 4},
          "encoding": {
            "x": {"field": "k", "type": "quantitative"},
            "y": {"field": "w", "type": "quantitative", "title": null},
            "y2": {"datum": 0},
            "color": {"field": "wd", "type": "nominal", "scale": {"domain": ["up", "dn"], "range": ["#008000", "#ff0000"]}, "legend": null}
          }
        },
        {
          "data": {"values": [{"t": "Gator(13,8,5) 216.739 0.000"}]},
          "mark": {"type": "text", "align": "left", "baseline": "top", "dx": 5, "dy": 4, "fontSize": 10, "color": "black"},
          "encoding": {
            "x": {"datum": -0.1875, "type": "quantitative"},
            "y": {"datum": 1728.37, "type": "quantitative"},
            "text": {"field": "t"}
          }
        }
      ]
    }
  ]
}
